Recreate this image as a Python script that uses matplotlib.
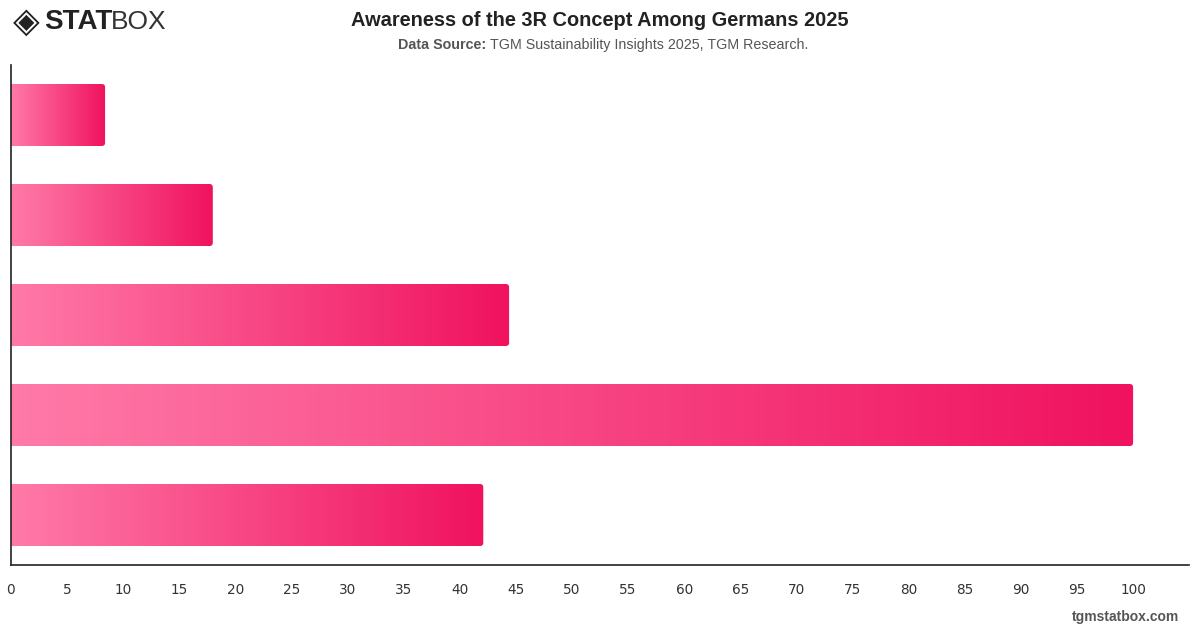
import numpy as np
import matplotlib
matplotlib.use('Agg')
import matplotlib.pyplot as plt
from matplotlib.patches import FancyBboxPatch
from matplotlib.colors import LinearSegmentedColormap

# data (no category labels are shown)
categories = ['A', 'B', 'C', 'D', 'E']
values = [8.4, 18.0, 44.4, 100.0, 42.1]
xticks = list(range(0, 105, 5))

title = 'Awareness of the 3R Concept Among Germans 2025'
source_bold = 'Data Source:'
source_text = 'TGM Sustainability Insights 2025, TGM Research.'

plt.rcParams['font.family'] = ['Liberation Sans', 'DejaVu Sans']

fig = plt.figure(figsize=(12, 6.28), dpi=100)
ax = fig.add_axes([0.009, 0.1003, 0.982, 0.7962])

cmap = LinearSegmentedColormap.from_list('pinks', ['#ff7aa8', '#f0125f'])
grad = np.linspace(0, 1, 256).reshape(1, -1)
bar_h = 0.62

for i, v in enumerate(values):
    y0 = i - bar_h / 2
    patch = FancyBboxPatch((-1, y0), v + 1, bar_h,
                           boxstyle='round,pad=0,rounding_size=0.3',
                           mutation_aspect=0.11, facecolor='none',
                           edgecolor='none', transform=ax.transData)
    ax.add_patch(patch)
    im = ax.imshow(grad, cmap=cmap, aspect='auto',
                   extent=(0, v, y0 + bar_h, y0), interpolation='bilinear')
    im.set_clip_path(patch)

ax.set_xlim(0, 105)
ax.set_ylim(4.5, -0.5)
ax.set_xticks(xticks)
ax.set_xticklabels([str(t) for t in xticks], fontsize=9.8, color='#333333',
                   family=['DejaVu Sans'])
ax.tick_params(axis='x', length=0, pad=13)
ax.set_yticks([])
for s in ['top', 'right']:
    ax.spines[s].set_visible(False)
for s in ['left', 'bottom']:
    ax.spines[s].set_color('#222222')
    ax.spines[s].set_linewidth(1.2)

fig.text(0.5, 0.968, title, ha='center', va='center', fontsize=14.4,
         fontweight='bold', color='#222222')
fig.text(0.405, 0.929, source_bold, ha='right', va='center', fontsize=10.3,
         fontweight='bold', color='#555555')
fig.text(0.408, 0.929, source_text, ha='left', va='center', fontsize=10.3,
         color='#555555')

# logo
fig.text(0.0105, 0.965, '\u25C8', ha='left', va='center', fontsize=25,
         color='#222222', family='DejaVu Sans')
fig.text(0.037, 0.965, 'STAT', ha='left', va='center', fontsize=20,
         fontweight='bold', color='#222222')
fig.text(0.0925, 0.965, 'BOX', ha='left', va='center', fontsize=19,
         fontweight='light', color='#333333')

fig.text(0.983, 0.018, 'tgmstatbox.com', ha='right', va='center', fontsize=10,
         fontweight='bold', color='#555555')

fig.savefig('out.png', dpi=100)
